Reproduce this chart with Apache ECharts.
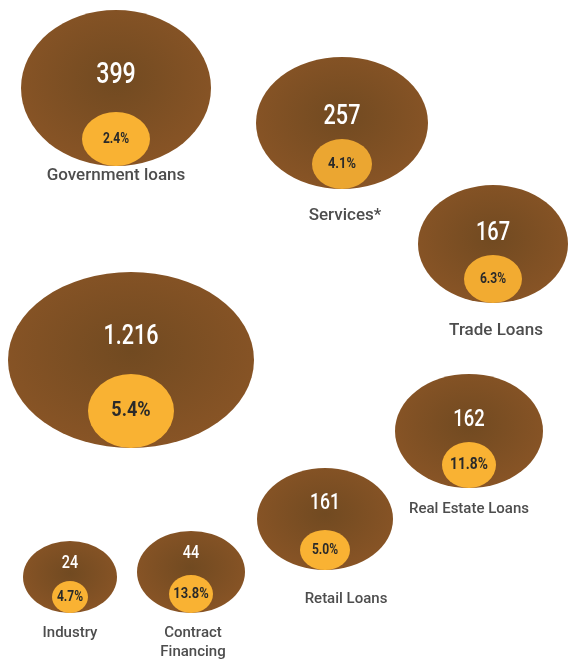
<!DOCTYPE html>
<html>
<head>
<meta charset="utf-8">
<script src="https://cdn.jsdelivr.net/npm/echarts@6/dist/echarts.min.js"></script>
<style>
html,body{margin:0;padding:0;background:#fff;}
#chart{width:570px;height:660px;}
</style>
</head>
<body>
<div id="chart"></div>
<script>
// ---- data ----
const categories = ["Government loans","Services*","Trade Loans","","Real Estate Loans","Retail Loans","Industry","Contract\nFinancing"];
const amounts = ["399","257","167","1.216","162","161","24","44"];
const shares = ["2.4%","4.1%","6.3%","5.4%","11.8%","5.0%","4.7%","13.8%"];

// ---- layout (axis units = pixels) ----
const cx = [116, 342, 493, 131, 469, 325, 70, 191];
const cy = [88, 123, 244, 360, 431, 519, 577, 572];
const rx = [95, 86, 75, 123, 74, 68, 47, 54];
const ry = [78, 66, 59, 88, 57, 51, 36, 41];
const irx = [34, 30, 29, 43, 27, 25, 18, 22];
const iry = [27, 25, 24, 37, 23, 20, 16, 19];
const numY = [76, 117, 234, 337, 420, 503, 563, 553];
const numSize = [29, 27, 25, 27, 23, 22, 18, 18];
const pctSize = [14, 15, 14, 21, 16, 14, 14, 15];
const nameX = [116, 345, 496, 0, 469, 346, 70, 193];
const nameY = [176, 216, 331, 0, 509, 599, 633, 643];
const nameSize = [17, 17, 17, 17, 15, 15, 15, 15];
const innerColor = ['#F9B233','#EBA631','#F2AB31','#F9B233','#F9B233','#F9B233','#F9B233','#F9B233'];

const FONT = "Roboto,'Noto Sans',sans-serif";

const brown = {
  type: 'radial', x: 0.5, y: 0.45, r: 0.6,
  colorStops: [{offset: 0, color: '#714a21'}, {offset: 1, color: '#8a5526'}]
};

const outerData = amounts.map((a, i) => ({
  value: [cx[i], cy[i]],
  symbolSize: [2 * rx[i], 2 * ry[i]]
}));
const innerData = shares.map((s, i) => ({
  value: [cx[i], cy[i] + ry[i] - iry[i]],
  symbolSize: [2 * irx[i], 2 * iry[i]],
  itemStyle: {color: innerColor[i], opacity: 1}
}));
const numData = amounts.map((a, i) => [cx[i], numY[i]]);
const pctData = shares.map((s, i) => [cx[i], cy[i] + ry[i] - iry[i]]);
const nameData = categories.map((c, i) => ({
  value: [nameX[i], nameY[i]],
  label: {fontSize: nameSize[i]}
}));

function condensedText(texts, sizes, weight, color, sx) {
  return function (params, api) {
    const i = params.dataIndex;
    const p = api.coord([api.value(0), api.value(1)]);
    return {
      type: 'text', x: p[0], y: p[1], scaleX: sx,
      style: {
        text: texts[i], fill: color, align: 'center', verticalAlign: 'middle',
        font: weight + ' ' + sizes[i] + 'px ' + FONT
      }
    };
  };
}

const hidden = {color: 'rgba(0,0,0,0)', opacity: 1};

const chart = echarts.init(document.getElementById('chart'));
chart.setOption({
  animation: false,
  grid: {left: 0, right: 0, top: 0, bottom: 0},
  xAxis: {type: 'value', min: 0, max: 570, show: false},
  yAxis: {type: 'value', min: 0, max: 660, inverse: true, show: false},
  series: [
    {
      type: 'scatter', symbol: 'circle', data: outerData, z: 1,
      itemStyle: {color: brown, opacity: 1}, silent: true
    },
    {
      type: 'scatter', symbol: 'circle', data: innerData, z: 2, silent: true,
      itemStyle: {opacity: 1}
    },
    {
      type: 'custom', data: numData, z: 3, silent: true,
      renderItem: condensedText(amounts, numSize, 500, '#ffffff', 0.8)
    },
    {
      type: 'custom', data: pctData, z: 3, silent: true,
      renderItem: condensedText(shares, pctSize, 'bold', '#2a2a2a', 0.86)
    },
    {
      type: 'scatter', symbol: 'rect', symbolSize: 1, data: nameData, z: 3, silent: true,
      itemStyle: hidden,
      label: {show: true, position: 'inside', color: '#4d4d4d', fontFamily: FONT, fontWeight: 500,
        lineHeight: 19, formatter: p => categories[p.dataIndex]}
    }
  ]
});
</script>
</body>
</html>
